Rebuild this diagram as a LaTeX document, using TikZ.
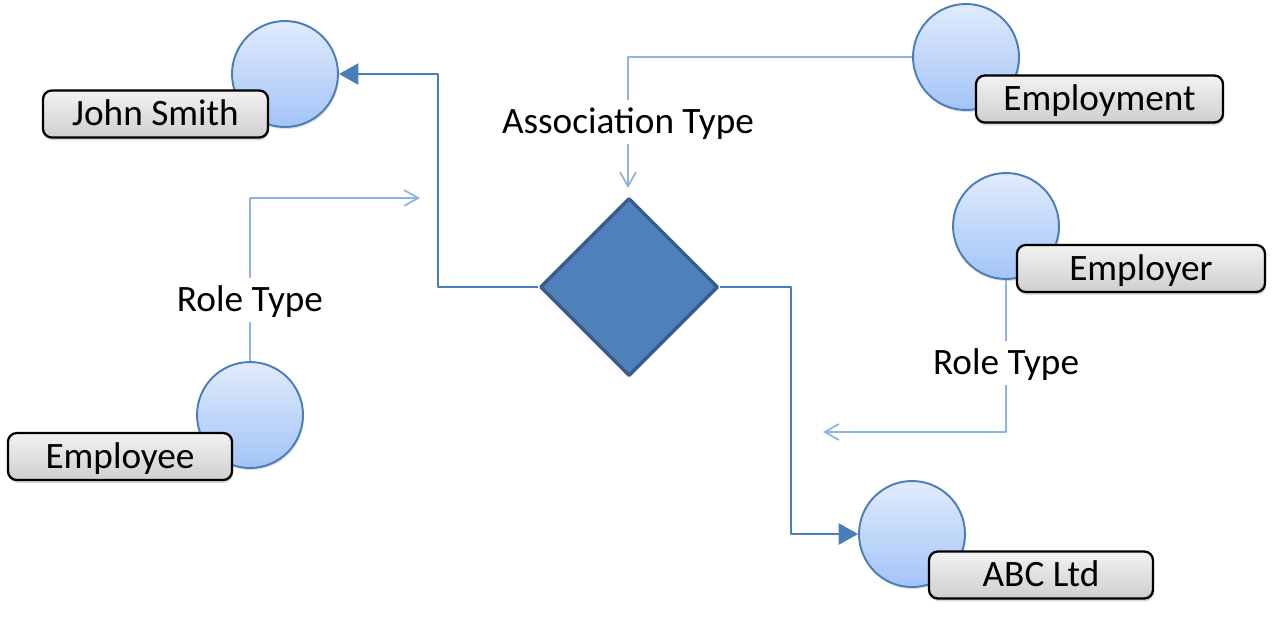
\documentclass[tikz,border=0pt]{standalone}
\usepackage{fontspec}
\setmainfont{Carlito}
\usetikzlibrary{shapes.geometric,arrows.meta,shadows}
\definecolor{ringblue}{RGB}{74,126,187}
\definecolor{balltop}{RGB}{225,235,252}
\definecolor{ballbot}{RGB}{163,196,247}
\definecolor{diafill}{RGB}{79,129,189}
\definecolor{diaedge}{RGB}{56,93,138}
\definecolor{softblue}{RGB}{141,179,226}
\tikzset{
topic/.style={circle,draw=ringblue,line width=1.1pt,top color=balltop,bottom color=ballbot,minimum size=2.12cm,inner sep=0pt,
  drop shadow={opacity=0.25,shadow xshift=0.6pt,shadow yshift=-1.2pt}},
tag/.style={rounded corners=5pt,draw=black,line width=1.3pt,top color=gray!10,bottom color=gray!38,inner sep=0pt,minimum height=0.94cm,
  text height=17.5pt,text depth=3.9pt,
  drop shadow={opacity=0.3,shadow xshift=0.6pt,shadow yshift=-1.6pt}},
assoc/.style={diamond,aspect=1,fill=diafill,draw=diaedge,line width=2pt,minimum size=3.56cm,inner sep=0pt},
hard/.style={draw=ringblue,line width=1.1pt,-{Triangle[length=11pt,width=12pt]}},
soft/.style={draw=softblue,line width=1pt,-{Straight Barb[length=8pt,width=9pt]}},
word/.style={fill=white,inner sep=2pt,text height=17.5pt,text depth=3.9pt}
}
\begin{document}
\begin{tikzpicture}[x=0.02cm,y=-0.02cm,font=\fontsize{21.2}{25}\selectfont,line join=round]
\useasboundingbox (0,0) rectangle (1273,632);
% topics with their name tags
\foreach \nm/\cx/\cy/\lx/\ly/\w/\txt in {jsmith/285/74/155.5/114/225/John Smith,
  employee/250/415/120/456.5/224/Employee,
  employment/966/57/1099.5/99/247/Employment,
  employer/1006/226/1141/268.5/248/Employer,
  abc/912/534/1041/575/224/ABC Ltd}{
\node[topic] (\nm) at (\cx,\cy) {};
\node[tag,minimum width=\w*0.02cm] (\nm-tag) at (\lx,\ly) {\txt};
}
\node[assoc] (assoc) at (629,287) {};
% free ends of the type links
\coordinate (roleL) at (420,198);
\coordinate (assocT) at (628,188);
\coordinate (roleR) at (823,432);
% role links
\draw[hard] (assoc.west) -- ++(-100,0) |- (jsmith.east);
\draw[hard] (assoc.east) -- ++(71,0) |- (abc.west);
% type links
\draw[soft] (employee.north) |- (roleL);
\draw[soft] (employment.west) -| (assocT);
\draw[soft] (employer.south) |- (roleR);
\node[word] (roleLtxt) at (250,300) {Role Type};
\node[word] (assoctxt) at (628,122) {Association Type};
\node[word] (roleRtxt) at (1006,363) {Role Type};
\end{tikzpicture}
\end{document}
